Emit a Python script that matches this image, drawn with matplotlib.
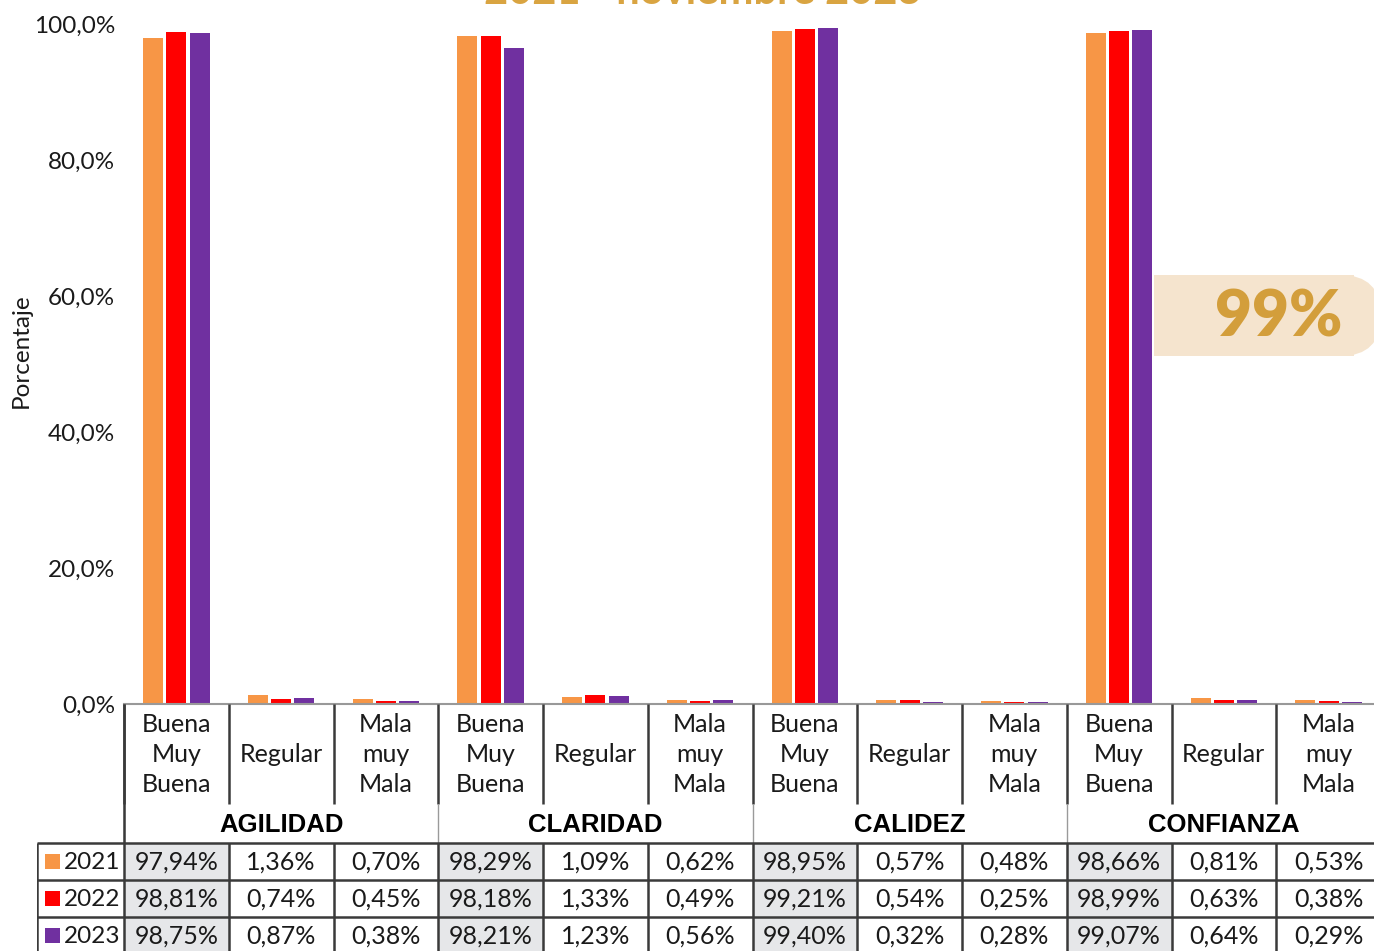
import numpy as np
import matplotlib.pyplot as plt
from matplotlib.patches import Rectangle, FancyBboxPatch

# ---- data ----
groups = ["AGILIDAD", "CLARIDAD", "CALIDEZ", "CONFIANZA"]
cats = ["Buena\nMuy\nBuena", "Regular", "Mala\nmuy\nMala"]
years = ["2021", "2022", "2023"]
colors = ["#F79646", "#FF0000", "#7030A0"]

# values printed in the table
v2021 = [97.94, 1.36, 0.70, 98.29, 1.09, 0.62, 98.95, 0.57, 0.48, 98.66, 0.81, 0.53]
v2022 = [98.81, 0.74, 0.45, 98.18, 1.33, 0.49, 99.21, 0.54, 0.25, 98.99, 0.63, 0.38]
v2023 = [98.75, 0.87, 0.38, 98.21, 1.23, 0.56, 99.40, 0.32, 0.28, 99.07, 0.64, 0.29]
series = [v2021, v2022, v2023]
# bar heights as drawn in the chart (the 2023 CLARIDAD bar is shorter than its table value)
b2023 = [98.75, 0.87, 0.38, 96.5, 1.23, 0.56, 99.40, 0.32, 0.28, 99.07, 0.64, 0.29]
bars = [v2021, v2022, b2023]

yticks = [0, 20, 40, 60, 80, 100]
title = "2021 - noviembre 2023"
badge = "99%"

W, H = 1374, 951
FONT = ["Lato", "DejaVu Sans"]
plt.rcParams["font.family"] = FONT
TXT = "#1a1a1a"
FS = 18

fig = plt.figure(figsize=(W / 100, H / 100), dpi=100)

# pixel layout
x0, slot = 124, 104.75
right = x0 + 12 * slot
ytop, ybase = 24, 704

ax = fig.add_axes([x0 / W, 1 - ybase / H, (right - x0) / W, (ybase - ytop) / H])
n = len(groups) * len(cats)
x = np.arange(n) + 0.5
bw, step = 0.19, 0.222
for i, (vals, c) in enumerate(zip(bars, colors)):
    ax.bar(x + (i - 1) * step, vals, width=bw, color=c, zorder=2)
ax.set_xlim(0, n)
ax.set_ylim(0, 100)
ax.set_yticks(yticks)
ax.set_yticklabels([f"{t:.1f}%".replace(".", ",") for t in yticks],
                   fontsize=17.5, color=TXT)
ax.tick_params(axis="y", length=0, pad=6.5)
ax.set_xticks([])
for s in ["top", "right", "left"]:
    ax.spines[s].set_visible(False)
ax.spines["bottom"].set_color("#999999")
ax.spines["bottom"].set_linewidth(1.5)
ax.set_ylabel("Porcentaje", fontsize=17.5, color=TXT)
ax.yaxis.set_label_coords(-0.073, 0.519)

# ---- table below ----
tleft = 37
tax = fig.add_axes([tleft / W, 0, (right - tleft) / W, 1 - ybase / H])
tax.set_xlim((tleft - x0) / slot, n)
tax.set_ylim(H - ybase, 0)
tax.axis("off")

lc, lw = "#3a3a3a", 1.8
hdr_bot, grp_bot, row_h = 100, 139, 37
nrows = len(years)

for k in range(n):
    tax.text(k + 0.5, hdr_bot / 2 + 0.5, cats[k % 3], ha="center", va="center",
             fontsize=FS, color=TXT, linespacing=1.36)
for g, name in enumerate(groups):
    tax.text(g * 3 + 1.5, (hdr_bot + grp_bot) / 2 + 1, name, ha="center", va="center",
             fontsize=18.5, fontweight="bold", family=["Liberation Sans", "DejaVu Sans"])
for k in range(n + 1):
    tax.plot([k, k], [0, hdr_bot], color=lc, lw=lw, solid_capstyle="butt")
    if k % 3 == 0:
        tax.plot([k, k], [hdr_bot, grp_bot], color="#9a9a9a", lw=1, solid_capstyle="butt")
tax.plot([0, 0], [0, grp_bot], color=lc, lw=lw, solid_capstyle="butt")

xl = (tleft - x0) / slot
for r in range(nrows):
    ytop_r = grp_bot + r * row_h
    ymid = ytop_r + row_h / 2
    for k in range(n):
        if k % 3 == 0:
            tax.add_patch(Rectangle((k, ytop_r), 1, row_h, facecolor="#E6E7E9",
                                    edgecolor="none", zorder=0))
        tax.text(k + 0.5, ymid + 1, f"{series[r][k]:.2f}%".replace(".", ","),
                 ha="center", va="center", fontsize=FS, color=TXT)
    tax.add_patch(Rectangle((xl + 8 / slot, ymid - 7.5), 15 / slot, 15,
                            facecolor=colors[r], edgecolor="none"))
    tax.text(xl + 27 / slot, ymid + 1, years[r], ha="left", va="center",
             fontsize=17.5, color=TXT)
for r in range(nrows + 1):
    yy = grp_bot + r * row_h
    tax.plot([xl, n], [yy, yy], color=lc, lw=lw, solid_capstyle="butt")
for k in range(n + 1):
    tax.plot([k, k], [grp_bot, grp_bot + nrows * row_h], color=lc, lw=lw,
             solid_capstyle="butt")
tax.plot([xl, xl], [grp_bot, grp_bot + nrows * row_h], color=lc, lw=lw,
         solid_capstyle="butt")

# ---- overlay: title and badge ----
ov = fig.add_axes([0, 0, 1, 1], zorder=5)
ov.set_xlim(0, W)
ov.set_ylim(H, 0)
ov.axis("off")
ov.text(703, 4, title, ha="center", va="baseline", fontsize=30, fontweight="bold",
        color="#D9A441")
bcol = "#F5E4CE"
ov.add_patch(Rectangle((1154, 275), 200, 81, facecolor=bcol, edgecolor="none"))
ov.add_patch(FancyBboxPatch((1300, 275), 81, 81, boxstyle="round,pad=0,rounding_size=40.5",
                            facecolor=bcol, edgecolor="none"))
ov.text(1279, 318, badge, ha="center", va="center", fontsize=46, fontweight="heavy",
        color="#D39E3B")

fig.savefig("out.png", dpi=100)
